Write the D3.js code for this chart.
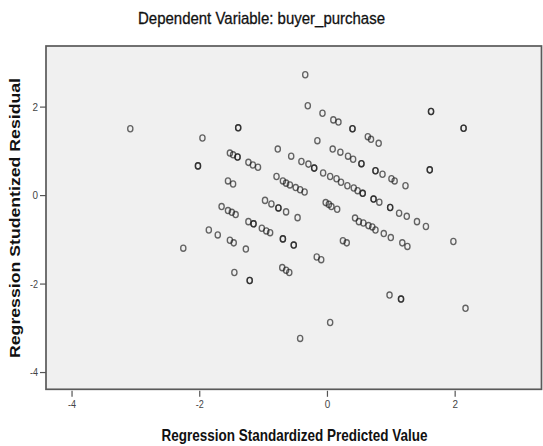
<!DOCTYPE html>
<html><head><meta charset="utf-8">
<script src="https://cdn.jsdelivr.net/npm/d3@7"></script>
<style>body{margin:0;background:#fff} svg{display:block}</style>
</head><body>
<script>
// Regression Standardized Predicted Value (x) and Studentized Residual (y)
const predicted = [
 -3.08,-1.95,-2.02,-1.39,-0.34,-0.30,-0.07,0.10,0.18,0.40,0.64,0.69,0.81,1.63,2.14,-0.15,-0.77,-0.56,
 -1.52,-1.47,-1.40,-1.23,-1.16,-1.08,-0.40,-0.29,-0.20,0.09,0.21,0.33,0.41,0.54,1.61,
 -0.06,0.05,0.15,0.22,0.32,0.42,0.48,0.56,0.73,0.82,0.76,0.87,1.01,1.06,1.23,-1.55,-1.47,
 -0.79,-0.69,-0.64,-0.58,-0.49,-0.42,-0.35,
 -0.97,-0.87,-0.76,-0.64,-0.46,-1.65,-1.55,-1.49,-1.43,-0.02,0.03,0.07,0.16,0.44,0.50,0.57,0.65,
 0.99,1.13,1.25,1.41,1.55,0.71,0.76,0.89,1.00,1.18,1.26,1.98,
 -1.23,-1.15,-1.02,-0.95,-0.89,-1.85,-1.71,-1.52,-1.46,-1.27,-0.69,-0.52,0.25,0.31,-2.25,
 -0.16,-0.09,-1.45,-1.21,-0.70,-0.64,-0.59,0.98,1.16,2.17,0.05,-0.42,
 // overlapping observations (darker rings)
 -2.02,-1.39,0.40,1.63,2.14,-1.40,-0.20,0.54,1.61,0.56,0.73,0.76,-0.76,0.99,-1.15,-0.69,-0.52,-1.21,1.16
];
const residual = [
 1.50,1.29,0.66,1.52,2.72,2.02,1.85,1.70,1.65,1.50,1.32,1.26,1.17,1.89,1.51,1.23,1.04,0.88,
 0.95,0.91,0.86,0.74,0.68,0.63,0.76,0.70,0.61,1.04,0.97,0.88,0.81,0.71,0.57,
 0.50,0.42,0.37,0.29,0.21,0.16,0.10,0.04,-0.09,-0.16,0.55,0.47,0.37,0.32,0.21,0.32,0.25,
 0.42,0.32,0.27,0.23,0.17,0.12,0.07,
 -0.12,-0.20,-0.29,-0.38,-0.51,-0.26,-0.35,-0.39,-0.44,-0.17,-0.21,-0.26,-0.32,-0.52,-0.60,-0.63,-0.69,
 -0.28,-0.41,-0.48,-0.60,-0.71,-0.72,-0.79,-0.87,-0.96,-1.08,-1.16,-1.05,
 -0.60,-0.65,-0.75,-0.81,-0.85,-0.79,-0.90,-1.02,-1.08,-1.22,-0.99,-1.13,-1.03,-1.08,-1.20,
 -1.40,-1.46,-1.75,-1.93,-1.64,-1.70,-1.75,-2.26,-2.35,-2.56,-2.88,-3.24,
 0.66,1.52,1.50,1.89,1.51,0.86,0.61,0.71,0.57,0.04,-0.09,0.55,-0.29,-0.28,-0.65,-0.99,-1.13,-1.93,-2.35
];
const xTickValues = [-4, -2, 0, 2];
const yTickValues = [-4, -2, 0, 2];
const titleText = "Dependent Variable: buyer_purchase";
const xLabel = "Regression Standardized Predicted Value";
const yLabel = "Regression Studentized Residual";

const W = 543, H = 446;
const plot = {left: 46, right: 541.5, top: 46, bottom: 389.3};

const svg = d3.select("body").append("svg").attr("width", W).attr("height", H);

const x = d3.scaleLinear().domain([-4.40, 3.36]).range([plot.left, plot.right]);
const y = d3.scaleLinear().domain([-4.39, 3.37]).range([plot.bottom, plot.top]);

const narrow = "'Liberation Sans Narrow','Arial Narrow','Liberation Sans',Arial,sans-serif";

// plot background + frame
svg.append("rect")
  .attr("x", plot.left).attr("y", plot.top)
  .attr("width", plot.right - plot.left).attr("height", plot.bottom - plot.top)
  .attr("fill", "#f0f0f0").attr("stroke", "#5a5a5a").attr("stroke-width", 1.7);

// axes
const xAxis = svg.append("g").attr("transform", `translate(0,${plot.bottom + 1.5})`)
  .call(d3.axisBottom(x).tickValues(xTickValues).tickSize(6).tickPadding(3).tickFormat(d3.format("d")));
const yAxis = svg.append("g").attr("transform", `translate(${plot.left},0)`)
  .call(d3.axisLeft(y).tickValues(yTickValues).tickSize(6).tickPadding(2).tickFormat(d3.format("d")));
[xAxis, yAxis].forEach(a => {
  a.select(".domain").remove();
  a.selectAll(".tick line").attr("stroke", "#555").attr("stroke-width", 1.2);
  a.selectAll(".tick text").attr("fill", "#444").style("font-family", narrow).style("font-size", "11px")
   .text(d => d < 0 ? "-" + Math.abs(d) : String(d))
   .attr("textLength", d => d < 0 ? 8 : 5.5).attr("lengthAdjust", "spacingAndGlyphs");
});

// points
svg.append("g").selectAll("ellipse")
  .data(predicted.map((p, i) => [p, residual[i]]))
  .join("ellipse")
  .attr("cx", d => x(d[0])).attr("cy", d => y(d[1]))
  .attr("rx", 2.6).attr("ry", 3.1)
  .attr("fill", "none").attr("stroke", "#1a1a1a").attr("stroke-opacity", 0.66).attr("stroke-width", 1.35);

// title
svg.append("text").attr("x", 261.5).attr("y", 24).attr("text-anchor", "middle")
  .style("font-family", narrow).style("font-size", "17px").attr("fill", "#111")
  .attr("stroke", "#111").attr("stroke-width", 0.3)
  .attr("textLength", 247).attr("lengthAdjust", "spacingAndGlyphs")
  .text(titleText);

// x label
svg.append("text").attr("x", 294.5).attr("y", 441).attr("text-anchor", "middle")
  .style("font-family", narrow).style("font-size", "16.5px").style("font-weight", "bold").attr("fill", "#111")
  .attr("textLength", 266).attr("lengthAdjust", "spacingAndGlyphs")
  .text(xLabel);

// y label
svg.append("text").attr("transform", "translate(20,218) rotate(-90)").attr("text-anchor", "middle")
  .style("font-family", "'Liberation Sans',Arial,sans-serif").style("font-size", "14px").style("font-weight", "bold").attr("fill", "#111")
  .attr("textLength", 280).attr("lengthAdjust", "spacingAndGlyphs")
  .text(yLabel);
</script>
</body></html>
